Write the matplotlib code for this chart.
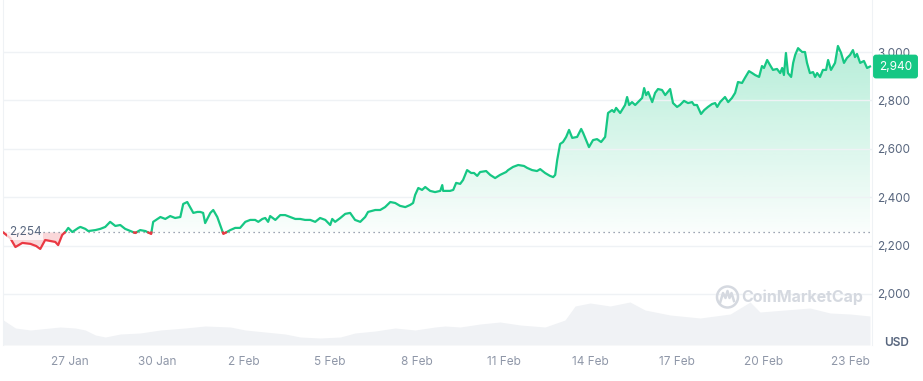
import matplotlib
matplotlib.use("Agg")
import matplotlib.pyplot as plt
import matplotlib.dates as mdates
from matplotlib.patches import Ellipse
from matplotlib.path import Path
from matplotlib.transforms import blended_transform_factory
import numpy as np
import pandas as pd

# price, days after 27 Jan 2024 00:00
price_days = [
    -2.32, -2.08, -1.90, -1.66, -1.38, -1.18, -1.04, -0.87, -0.69, -0.52,
    -0.42, -0.28, -0.17, -0.07, 0.07, 0.28, 0.35, 0.52, 0.62, 0.87,
    1.04, 1.21, 1.38, 1.56, 1.73, 1.90, 2.08, 2.25, 2.42, 2.60,
    2.80, 2.87, 3.12, 3.29, 3.46, 3.63, 3.81, 3.91, 4.05, 4.15,
    4.26, 4.40, 4.50, 4.60, 4.67, 4.85, 4.95, 5.09, 5.19, 5.30,
    5.54, 5.71, 5.88, 6.06, 6.23, 6.40, 6.51, 6.65, 6.75, 6.85,
    6.92, 7.10, 7.27, 7.44, 7.62, 7.79, 7.96, 8.13, 8.31, 8.48,
    8.65, 8.83, 9.00, 9.07, 9.17, 9.35, 9.52, 9.69, 9.86, 10.04,
    10.21, 10.31, 10.56, 10.73, 10.90, 11.08, 11.25, 11.42, 11.60, 11.77,
    11.87, 11.94, 12.05, 12.18, 12.29, 12.46, 12.63, 12.81, 12.88, 12.91,
    13.15, 13.26, 13.36, 13.50, 13.60, 13.74, 13.88, 13.98, 14.09, 14.19,
    14.40, 14.54, 14.71, 14.88, 15.09, 15.16, 15.33, 15.51, 15.71, 15.82,
    15.99, 16.16, 16.27, 16.44, 16.61, 16.72, 16.79, 16.86, 16.96, 17.06,
    17.17, 17.27, 17.38, 17.55, 17.69, 17.76, 17.90, 17.96, 18.10, 18.24,
    18.38, 18.52, 18.62, 18.76, 18.83, 18.90, 19.04, 19.21, 19.28, 19.35,
    19.45, 19.56, 19.66, 19.80, 19.87, 19.94, 20.01, 20.15, 20.25, 20.35,
    20.49, 20.60, 20.77, 20.87, 21.01, 21.11, 21.25, 21.39, 21.53, 21.60,
    21.70, 21.84, 21.95, 22.08, 22.22, 22.33, 22.40, 22.50, 22.67, 22.78,
    22.91, 23.02, 23.12, 23.26, 23.36, 23.50, 23.61, 23.71, 23.85, 23.95,
    24.02, 24.13, 24.23, 24.33, 24.47, 24.58, 24.65, 24.71, 24.78, 24.85,
    24.96, 25.03, 25.10, 25.20, 25.34, 25.44, 25.51, 25.61, 25.72, 25.79,
    25.86, 25.96, 26.06, 26.17, 26.24, 26.34, 26.48, 26.58, 26.69, 26.79,
    26.89, 27.00, 27.10, 27.17, 27.24, 27.35, 27.48, 27.59, 27.69,
]
price_usd = [
    2254, 2231, 2194, 2211, 2207, 2198, 2186, 2223, 2219, 2215,
    2202, 2244, 2256, 2273, 2256, 2273, 2277, 2269, 2260, 2264,
    2269, 2277, 2298, 2281, 2285, 2269, 2260, 2252, 2264, 2260,
    2248, 2298, 2318, 2310, 2322, 2314, 2318, 2372, 2380, 2359,
    2335, 2339, 2339, 2335, 2293, 2335, 2347, 2318, 2285, 2248,
    2264, 2273, 2273, 2298, 2306, 2306, 2298, 2310, 2314, 2298,
    2322, 2306, 2326, 2326, 2318, 2310, 2310, 2306, 2306, 2298,
    2314, 2306, 2285, 2310, 2298, 2314, 2331, 2335, 2306, 2298,
    2318, 2339, 2347, 2347, 2359, 2380, 2376, 2364, 2359, 2368,
    2376, 2409, 2438, 2430, 2442, 2426, 2421, 2426, 2450, 2426,
    2426, 2430, 2459, 2455, 2471, 2512, 2500, 2500, 2488, 2504,
    2508, 2492, 2479, 2492, 2504, 2512, 2525, 2533, 2529, 2521,
    2512, 2508, 2516, 2500, 2488, 2483, 2492, 2554, 2620, 2628,
    2649, 2678, 2645, 2649, 2682, 2665, 2624, 2607, 2636, 2640,
    2628, 2649, 2748, 2760, 2752, 2769, 2748, 2781, 2814, 2781,
    2793, 2781, 2793, 2810, 2851, 2822, 2835, 2793, 2831, 2847,
    2843, 2822, 2847, 2789, 2773, 2781, 2798, 2789, 2793, 2781,
    2781, 2744, 2760, 2773, 2785, 2789, 2773, 2793, 2814, 2793,
    2810, 2831, 2876, 2872, 2893, 2921, 2913, 2905, 2897, 2942,
    2934, 2967, 2946, 2926, 2930, 2913, 2934, 2905, 2996, 2913,
    2897, 2955, 2988, 3016, 3000, 3000, 2955, 2913, 2917, 2897,
    2913, 2897, 2926, 2926, 2967, 2926, 2955, 3025, 2996, 2955,
    2975, 2988, 3008, 2979, 2992, 2955, 2963, 2934, 2940,
]

# 24h volume (USD bn), days after 27 Jan 2024
vol_days = [
    -2.32, -1.90, -1.38, -0.35, 0.17, 0.52, 0.87, 1.21, 1.73, 2.42,
    3.12, 3.98, 4.67, 5.54, 6.06, 6.75, 7.44, 7.96, 8.65, 9.35,
    9.86, 10.56, 11.25, 11.94, 12.63, 12.98, 13.50, 14.19, 14.88, 15.58,
    16.44, 17.13, 17.48, 18.00, 18.69, 19.38, 19.90, 20.77, 21.81, 22.85,
    23.54, 23.88, 24.75, 25.61, 26.31, 27.00, 27.69,
]
vol_bn = [
    15, 10.2, 9, 10.8, 10.2, 9, 6, 4.8, 6.6, 7.2,
    9, 10.2, 11.4, 10.8, 9, 7.8, 6.6, 4.8, 4.2, 4.8,
    7.2, 8.4, 10.2, 9, 10.8, 11.4, 10.8, 12.6, 13.8, 12,
    10.8, 15, 23.4, 25.2, 23.4, 25.8, 21, 18, 16.2, 18.6,
    25.8, 19.8, 21, 22.2, 19.2, 18.6, 17.4,
]

baseline = 2254
last_price = 2940
price_ticks = [2000, 2200, 2400, 2600, 2800, 3000]
tick_dates = ['2024-01-27', '2024-01-30', '2024-02-02', '2024-02-05', '2024-02-08',
              '2024-02-11', '2024-02-14', '2024-02-17', '2024-02-20', '2024-02-23']
tick_labels = ['27 Jan', '30 Jan', '2 Feb', '5 Feb', '8 Feb',
               '11 Feb', '14 Feb', '17 Feb', '20 Feb', '23 Feb']

GREEN = '#16c784'
RED = '#ea3943'

plt.rcParams['font.family'] = ['Inter', 'DejaVu Sans']

t0 = pd.Timestamp('2024-01-27')
x = mdates.date2num(t0 + pd.to_timedelta(price_days, unit='D'))
y = np.array(price_usd, dtype=float)
xv = mdates.date2num(t0 + pd.to_timedelta(vol_days, unit='D'))
x_lo = mdates.date2num(t0 + pd.Timedelta(days=-2.33))
x_hi = mdates.date2num(t0 + pd.Timedelta(days=27.76))

fig = plt.figure(figsize=(9.23, 3.81), dpi=100)
pos = [3 / 923, 36 / 381, 869 / 923, 345 / 381]

# volume underneath
axv = fig.add_axes(pos)
axv.fill_between(xv, vol_bn, 0, color='#f0f2f5', lw=0)
axv.set_xlim(x_lo, x_hi)
axv.set_ylim(0, 207)
axv.axis('off')

ax = fig.add_axes(pos)
ax.patch.set_alpha(0)
ax.set_xlim(x_lo, x_hi)
ax.set_ylim(1789, 3215)

# split line at baseline crossings
xs, ys = [x[0]], [y[0]]
for i in range(1, len(x)):
    if (y[i - 1] - baseline) * (y[i] - baseline) < 0:
        f = (baseline - y[i - 1]) / (y[i] - y[i - 1])
        xs.append(x[i - 1] + f * (x[i] - x[i - 1]))
        ys.append(baseline)
    xs.append(x[i])
    ys.append(y[i])
xs, ys = np.array(xs), np.array(ys)

# green gradient area
poly = ax.fill_between(xs, ys, baseline, where=ys >= baseline, facecolor='none', edgecolor='none')
grad = np.zeros((256, 1, 4))
grad[:, 0, :3] = matplotlib.colors.to_rgb(GREEN)
grad[:, 0, 3] = np.linspace(0.02, 0.32, 256)
im = ax.imshow(grad, extent=[x_lo, x_hi, baseline, 3040], origin='lower', aspect='auto', zorder=1)
im.set_clip_path(Path.make_compound_path(*poly.get_paths()), ax.transData)

# red area
ax.fill_between(xs, ys, baseline, where=ys <= baseline, color=RED, alpha=0.2, lw=0, zorder=1)

ax.plot(xs, np.where(ys >= baseline, ys, np.nan), color=GREEN, lw=1.6, zorder=3)
ax.plot(xs, np.where(ys <= baseline, ys, np.nan), color=RED, lw=1.6, zorder=3)

ax.axhline(baseline, color='#7f899b', lw=0.9, ls=(0, (1, 3)), zorder=2)
ax.text(x_lo + 0.2, baseline, '2,254', fontsize=8.5, color='#58667e', va='center', ha='left',
        bbox=dict(boxstyle='square,pad=0.15', fc='white', ec='none', alpha=0.75), zorder=4)

ax.set_ylim(1789, 3215)
ax.set_xlim(x_lo, x_hi)

ax.set_yticks(price_ticks)
ax.set_yticklabels([f'{v:,}' for v in price_ticks])
ax.yaxis.tick_right()
ax.grid(axis='y', color='#eff2f5', lw=1, zorder=0)
ax.tick_params(axis='y', length=0, pad=4, labelsize=8.5, labelcolor='#58667e')

ax.set_xticks(mdates.date2num(pd.to_datetime(tick_dates)))
ax.set_xticklabels(tick_labels)
ax.tick_params(axis='x', length=0, pad=8, labelsize=8.5, labelcolor='#8f97a8')

for s in ['top', 'bottom']:
    ax.spines[s].set_visible(False)
for s in ['left', 'right']:
    ax.spines[s].set_color('#eff2f5')

# current price tag
ax.annotate(f'{last_price:,}', xy=(1, last_price),
            xycoords=blended_transform_factory(ax.transAxes, ax.transData),
            xytext=(5, 0), textcoords='offset points', ha='left', va='center',
            fontsize=8.5, color='white',
            bbox=dict(boxstyle='round,pad=0.5,rounding_size=0.25', fc=GREEN, ec='none'),
            annotation_clip=False, zorder=5)

fig.text(897 / 923, 1 - 343 / 381, 'USD', ha='center', va='center',
         fontsize=8.5, fontweight='semibold', color='#58667e')

# watermark
fig.text(741 / 923, 1 - 297 / 381, 'CoinMarketCap', ha='left', va='center',
         fontsize=11.5, fontweight='bold', color='#d5d9e0')
fig.add_artist(Ellipse((727.5 / 923, 1 - 297 / 381), 21 / 923, 21 / 381,
                       transform=fig.transFigure, fill=False, ec='#d5d9e0', lw=1.8))
wx = np.array([720, 723, 725.5, 727.5, 729.5, 731.5, 734]) / 923
wy = 1 - np.array([303, 293, 298, 291, 298, 293, 301]) / 381
fig.add_artist(plt.Line2D(wx, wy, transform=fig.transFigure, color='#d5d9e0', lw=1.8))

fig.savefig('out.png', dpi=100)
